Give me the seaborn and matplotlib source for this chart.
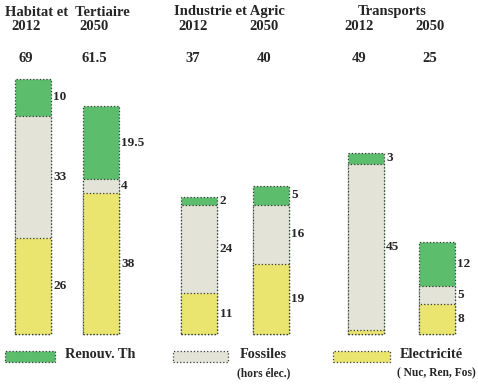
import numpy as np
import pandas as pd
import matplotlib.pyplot as plt
from matplotlib.patches import Rectangle
import seaborn as sns

# Data
sectors = ["Habitat et  Tertiaire", "Industrie et Agric", "Transports"]
years = ["2012", "2050", "2012", "2050", "2012", "2050"]
totals = ["69", "61.5", "37", "40", "49", "25"]
elec = [26, 38, 11, 19, 1, 8]
fossil = [33, 4, 24, 16, 45, 5]
renew = [10, 19.5, 2, 5, 3, 12]
elec_labels = ["26", "38", "11", "19", "", "8"]
fossil_labels = ["33", "4", "24", "16", "45", "5"]
renew_labels = ["10", "19.5", "2", "5", "3", "12"]
legend_labels = ["Renouv. Th", "Fossiles", "Electricité"]
legend_sub = ["", "(hors élec.)", "( Nuc, Ren, Fos)"]

# layout
pos = [0, 1, 2.45, 3.5, 4.9, 5.95]
col_green = "#5cbd6c"
col_grey = "#e3e3d8"
col_yellow = "#e9e56e"
edge = "#3a3a3a"
txt = "#262626"

sns.set_theme(style="white")
plt.rcParams["font.family"] = ["Liberation Serif", "DejaVu Serif"]

df = pd.DataFrame({"pos": pos, "elec": elec, "fossil": fossil, "renew": renew})
df["c1"] = df["elec"]
df["c2"] = df["elec"] + df["fossil"]
df["c3"] = df["c2"] + df["renew"]

fig = plt.figure(figsize=(4.78, 3.84), dpi=100)
ax = fig.add_axes([0, 0, 1, 1])

bar_kw = dict(orient="x", native_scale=True, width=0.53, errorbar=None,
              edgecolor=edge, linewidth=0.9, linestyle=":", ax=ax)
sns.barplot(data=df, x="pos", y="c3", color=col_green, saturation=1, **bar_kw)
sns.barplot(data=df, x="pos", y="c2", color=col_grey, saturation=1, **bar_kw)
sns.barplot(data=df, x="pos", y="c1", color=col_yellow, saturation=1, **bar_kw)

s = 3.7  # px per unit
ax.set_xlim(-33 / 67.9, (478 - 33) / 67.9)
ax.set_ylim(-50 / s, 334 / s)
ax.axis("off")

def py(p):
    # pixel from top -> data y
    return (334 - p) / s

# segment labels
for i, p in enumerate(pos):
    xl = p + 0.3
    segs = [(0, elec[i], elec_labels[i]),
            (elec[i], elec[i] + fossil[i], fossil_labels[i]),
            (elec[i] + fossil[i], elec[i] + fossil[i] + renew[i], renew_labels[i])]
    for lo, hi, lab in segs:
        if lab:
            ax.text(xl, (lo + hi) / 2, lab, ha="left", va="center",
                    fontsize=9.5, fontweight="bold", color=txt)

# headers
group_x = [(pos[0] + pos[1]) / 2, (pos[2] + pos[3]) / 2 - 0.08, (pos[4] + pos[5]) / 2 - 0.13]
for gx, name in zip(group_x, sectors):
    ax.text(gx, py(12), name, ha="center", va="center", fontsize=10.5,
            fontweight="bold", color=txt)
for i, p in enumerate(pos):
    ax.text(p - 0.1, py(26), years[i], ha="center", va="center", fontsize=10.5,
            fontweight="bold", color=txt)
    ax.text(p - 0.1, py(59), totals[i], ha="center", va="center", fontsize=10.5,
            fontweight="bold", color=txt)

# legend
leg_cols = [col_green, col_grey, col_yellow]
leg_box = [(5, 55), (173, 228), (333, 390)]
leg_txt = [65, 240, 400]
for c, (x0, x1), tx, lab, sub in zip(leg_cols, leg_box, leg_txt, legend_labels, legend_sub):
    fig.patches.append(Rectangle((x0 / 478, 1 - 362 / 384), (x1 - x0) / 478, 11 / 384,
                                 transform=fig.transFigure, facecolor=c,
                                 edgecolor=edge, linewidth=0.9, linestyle=":"))
    fig.text(tx / 478, 1 - 355 / 384, lab, ha="left", va="center", fontsize=10.3,
             fontweight="bold", color=txt)
    if sub:
        fig.text((tx - 3) / 478, 1 - 373 / 384, sub, ha="left", va="center",
                 fontsize=8.3, fontweight="bold", color=txt)

fig.savefig("out.png", dpi=100)
